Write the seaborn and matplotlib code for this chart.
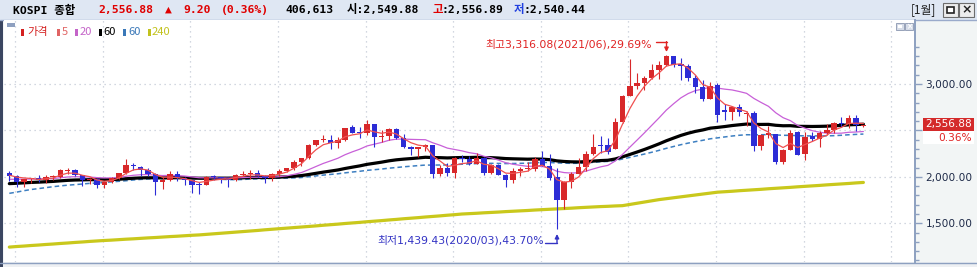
import numpy as np
import pandas as pd
import matplotlib
matplotlib.use("Agg")
import matplotlib.pyplot as plt
import seaborn as sns
from matplotlib.patches import Rectangle

sns.set_style("white")
plt.rcParams['font.family'] = ['DejaVu Sans', 'Noto Sans CJK KR']

# ---------------- data (KOSPI monthly, 2013-12 .. 2023-09) ----------------
months = list(pd.period_range('2013-12', '2023-09', freq='M').astype(str))

open_ = [2044, 2013, 1941, 1980, 1991, 1961, 1998, 2003, 2066, 2070, 2019, 1966, 1980,
         1915, 1949, 1985, 2042, 2130, 2111, 2077, 2030, 1941, 1964, 2030, 1989,
         1961, 1918, 1917, 1996, 1994, 1983, 1970, 2017, 2030, 2044, 2010, 1983,
         2027, 2067, 2091, 2160, 2206, 2347, 2394, 2402, 2363, 2394, 2536, 2476,
         2474, 2566, 2427, 2445, 2515, 2423, 2326, 2295, 2322, 2338, 2029, 2096,
         2041, 2204, 2195, 2140, 2203, 2041, 2130, 2024, 1967, 2063, 2083, 2087,
         2197, 2119, 1997, 1754, 1947, 2030, 2108, 2249, 2330, 2345, 2301, 2591,
         2874, 2976, 3013, 3062, 3148, 3204, 3297, 3202, 3199, 3069, 2971, 2839,
         2989, 2716, 2699, 2757, 2680, 2686, 2333, 2452, 2460, 2155, 2293, 2480,
         2249, 2438, 2413, 2477, 2501, 2577, 2564, 2633, 2549.88]
high = [2059, 2015, 1980, 1987, 2017, 2018, 2017, 2082, 2093, 2082, 2024, 1986, 1993,
        1960, 1996, 2046, 2189, 2145, 2118, 2096, 2046, 1995, 2064, 2060, 2000,
        1967, 1945, 2005, 2022, 2001, 2001, 2027, 2068, 2074, 2069, 2017, 2046,
        2088, 2099, 2180, 2208, 2355, 2402, 2453, 2451, 2429, 2527, 2561, 2532,
        2607, 2573, 2500, 2528, 2529, 2462, 2327, 2326, 2354, 2347, 2124, 2148,
        2218, 2232, 2228, 2252, 2213, 2140, 2135, 2036, 2097, 2103, 2162, 2211,
        2277, 2250, 2100, 1955, 2055, 2202, 2276, 2458, 2443, 2419, 2636, 2882,
        3266, 3121, 3091, 3220, 3249, 3316.08, 3305, 3279, 3214, 3093, 3048, 3025,
        3012, 2780, 2767, 2787, 2709, 2714, 2465, 2546, 2460, 2300, 2504, 2490,
        2485, 2484, 2494, 2571, 2589, 2644, 2668, 2668, 2556.89]
low = [1960, 1886, 1891, 1932, 1950, 1937, 1970, 1988, 2031, 2010, 1900, 1925, 1880,
       1876, 1932, 1974, 2032, 2076, 2013, 2012, 1800, 1870, 1960, 1956, 1914,
       1829, 1817, 1912, 1961, 1930, 1892, 1953, 2009, 1975, 1998, 1931, 1960,
       2009, 2053, 2071, 2121, 2192, 2334, 2373, 2300, 2311, 2391, 2475, 2420,
       2452, 2325, 2373, 2397, 2404, 2309, 2235, 2219, 2281, 1985, 2010, 2004,
       1993, 2161, 2124, 2140, 2016, 2030, 2019, 1891, 1938, 2013, 2060, 2064,
       2118, 1968, 1439.43, 1654, 1875, 2030, 2067, 2237, 2260, 2245, 2299, 2584,
       2869, 2944, 2930, 3051, 3054, 3197, 3183, 3044, 3029, 2902, 2819, 2837,
       2591, 2614, 2608, 2653, 2546, 2276, 2292, 2415, 2134, 2134, 2291, 2231,
       2180, 2391, 2323, 2449, 2470, 2540, 2522, 2492, 2540.44]
close = [2011, 1941, 1980, 1986, 1962, 1995, 2002, 2076, 2068, 2020, 1964, 1981, 1916,
         1949, 1986, 2041, 2127, 2115, 2074, 2030, 1941, 1963, 2029, 1991, 1961,
         1912, 1912, 1995, 1994, 1983, 1970, 2016, 2034, 2043, 2008, 1983, 2026,
         2067, 2091, 2160, 2205, 2347, 2392, 2402, 2363, 2394, 2523, 2476, 2467,
         2566, 2427, 2445, 2515, 2423, 2326, 2295, 2322, 2343, 2029, 2096, 2041,
         2204, 2195, 2140, 2203, 2041, 2130, 2024, 1967, 2063, 2083, 2087, 2197,
         2119, 1987, 1754, 1947, 2029, 2108, 2249, 2326, 2327, 2267, 2591, 2873,
         2976, 3013, 3061, 3148, 3204, 3297, 3202, 3199, 3069, 2971, 2839, 2978,
         2663, 2699, 2757, 2695, 2686, 2333, 2452, 2473, 2155, 2293, 2473, 2236,
         2425, 2413, 2477, 2501, 2577, 2564, 2633, 2557, 2556.88]

# closes before the visible window (2009-01 .. 2013-11), used for the averages
history_close = [1162, 1063, 1206, 1369, 1395, 1390, 1557, 1591, 1673, 1580, 1555, 1682,
                 1602, 1594, 1692, 1741, 1641, 1698, 1759, 1742, 1873, 1882, 1904, 2051,
                 2069, 1939, 2107, 2192, 2142, 2100, 2133, 1880, 1769, 1909, 1847, 1826,
                 1955, 2030, 2014, 1981, 1843, 1854, 1881, 1905, 1996, 1912, 1932, 1997,
                 1961, 2026, 2005, 1963, 2001, 1863, 1914, 1926, 1997, 2039, 2045]

# long (240) average line
ma240 = [1244, 1250, 1255, 1261, 1266, 1272, 1277, 1283, 1288, 1294, 1299, 1305, 1310,
         1315, 1319, 1324, 1329, 1333, 1338, 1343, 1347, 1352, 1357, 1361, 1366, 1371, 1375,
         1381, 1387, 1393, 1399, 1405, 1411, 1417, 1423, 1430, 1436, 1442, 1448, 1454, 1460,
         1466, 1472, 1479, 1485,
         1491, 1498, 1504, 1510, 1517, 1523, 1529, 1536, 1542, 1549, 1555, 1561, 1568, 1574,
         1580, 1587, 1593, 1600,
         1604, 1608, 1613, 1617, 1621, 1626, 1630, 1634, 1638, 1643, 1647, 1651,
         1655, 1659, 1663, 1668, 1672, 1676, 1680,
         1683, 1687, 1690,
         1703, 1716, 1729, 1742, 1755,
         1765, 1775, 1785, 1795, 1805, 1815, 1825, 1835,
         1840, 1845, 1851, 1856, 1861, 1866, 1872, 1877, 1882, 1887, 1893, 1898, 1903, 1908,
         1914, 1919, 1924, 1929, 1935, 1940]

# weighted (w_) and simple (s_) moving-average periods
ma_periods = {'w5': 5, 'w20': 20, 'w60': 60, 's60': 60}

# ---------------- derived frame ----------------
n = len(close)
df = pd.DataFrame({'month': months, 'open': open_, 'high': high, 'low': low, 'close': close})
df['i'] = np.arange(n)
full = pd.Series(history_close + close, dtype=float)
off = len(history_close)

def wma(s, w):
    wt = np.arange(1, w + 1, dtype=float)
    return s.rolling(w).apply(lambda a: np.dot(a, wt) / wt.sum(), raw=True)

for k, w in ma_periods.items():
    if k.startswith('w'):
        df[k] = wma(full, w).iloc[off:].to_numpy()
    else:
        df[k] = full.rolling(w).mean().iloc[off:].to_numpy()
df['ma240'] = ma240

UP, DN = '#d8282a', '#2c2cd6'

# ---------------- figure ----------------
W, H = 978, 267
fig = plt.figure(figsize=(W / 100, H / 100), dpi=100)
fig.patch.set_facecolor('#f3f5f7')

ul = fig.add_axes([0, 0, 1, 1])
ul.set_xlim(0, W); ul.set_ylim(H, 0); ul.axis('off'); ul.set_zorder(0)
ul.add_patch(Rectangle((0, 0), W, 20, fc='#dfe7f3', ec='none'))
ul.plot([0, W], [19.5, 19.5], color='#9aaacb', lw=1)
ul.add_patch(Rectangle((915, 20), 63, 242, fc='#f2f5f5', ec='none'))
ul.add_patch(Rectangle((0, 262), W, 5, fc='#eef0f3', ec='none'))
ul.plot([0, W], [262.5, 262.5], color='#8da0c0', lw=1)
ul.add_patch(Rectangle((0, 20), 3, 247, fc='#3b4661', ec='none'))

ax = fig.add_axes([4 / W, 5 / H, 911 / W, 242 / H])
ax.set_zorder(1)
ax.set_facecolor('white')

y_lo, y_hi = 1083.4, 3688.9
ax.set_ylim(y_lo, y_hi)
ax.set_xlim(-0.73, 124.07)

# grid
for v in [1500, 2000, 2500, 3000]:
    ax.axhline(v, color='#c4cbd6', lw=0.9, ls=(0, (1, 3)), zorder=0.5)
for i in range(1, 122, 12):
    ax.axvline(i - 0.2, color='#c4cbd6', lw=0.9, ls=(0, (1, 3)), zorder=0.5)

# moving averages
sns.lineplot(data=df, x='i', y='ma240', ax=ax, color='#c9c81c', lw=2.3, zorder=2)
sns.lineplot(data=df, x='i', y='s60', ax=ax, color='#3d7fc1', lw=1.1, ls=(0, (3, 2)), zorder=2)
sns.lineplot(data=df, x='i', y='w60', ax=ax, color='#000000', lw=2.3, zorder=2)
sns.lineplot(data=df, x='i', y='w20', ax=ax, color='#c860d8', lw=0.9, zorder=2)

# candles
min_h = (y_hi - y_lo) / 242 * 1.2
for r in df.itertuples():
    c = UP if r.close >= r.open else DN
    ax.vlines(r.i, r.low, r.high, color=c, lw=0.8, zorder=3)
    b0 = min(r.open, r.close)
    bh = max(abs(r.close - r.open), min_h)
    ax.bar(r.i, bh, bottom=b0, width=0.74, color=c, lw=0, zorder=3)

sns.lineplot(data=df, x='i', y='w5', ax=ax, color='#f05050', lw=0.9, zorder=4)

ax.set_xlabel(''); ax.set_ylabel('')
ax.set_xticks([])
for s in ['top', 'left', 'bottom']:
    ax.spines[s].set_visible(False)
ax.spines['right'].set_color('#8da0c0')
ax.spines['right'].set_linewidth(1.4)
ax.yaxis.tick_right()
ax.set_yticks([1500, 2000, 2500, 3000])
ax.set_yticklabels(['1,500.00', '2,000.00', '', '3,000.00'])
ax.set_yticks(np.arange(1100, 3401, 100), minor=True)
ax.tick_params(axis='y', which='major', length=5, width=1, color='#8da0c0',
               labelsize=7.6, labelcolor='#1e2a48', pad=2.5)
ax.tick_params(axis='y', which='minor', length=3, width=1, color='#8da0c0')
if ax.get_legend():
    ax.get_legend().remove()

# ---------------- overlay texts ----------------
ov = fig.add_axes([0, 0, 1, 1])
ov.set_xlim(0, W); ov.set_ylim(H, 0); ov.axis('off'); ov.set_zorder(5)

HF = ['DejaVu Sans Mono', 'Noto Sans CJK KR']
def T(x, y, s, c='black', size=8.2, weight='bold', fam=HF, ha='left'):
    ov.text(x, y, s, color=c, fontsize=size, fontweight=weight, family=fam,
            ha=ha, va='center')

T(13, 10, 'KOSPI 종합')
T(98, 10, '2,556.88', '#e00000')
T(165, 10, '▲', '#e00000')
T(183, 10, '9.20', '#e00000')
T(221, 10, '(0.36%)', '#e00000')
T(285, 10, '406,613')
T(347, 10, '시:2,549.88')
T(433, 10, '고', '#e00000')
T(442, 10, ':2,556.89')
T(514, 10, '저', '#2040e0')
T(523, 10, ':2,540.44')
T(911, 10, '[1월]', '#202020', size=8.5, weight='normal', fam=['Noto Sans CJK KR'])
for bx, sym in [(943, 'box'), (959, 'x')]:
    ov.add_patch(Rectangle((bx, 3), 15, 14, fc='#ececec', ec='#6d6d6d', lw=0.8))
    if sym == 'box':
        ov.add_patch(Rectangle((bx + 4, 7), 7, 6, fc='white', ec='#222222', lw=1.2))
    else:
        ov.text(bx + 7.5, 10, '×', fontsize=9, fontweight='bold', ha='center', va='center',
                color='#222222')

# legend row
ov.add_patch(Rectangle((7, 23), 8, 4, fc='#8ea0c0', ec='none'))
LF = ['Noto Sans CJK KR', 'DejaVu Sans']
leg = [(21, 27, '가격', '#d42020'), (57, 62, '5', '#e06464'), (75, 80, '20', '#c464c8'),
       (99, 103, '60', '#000000'), (123, 128, '60', '#3a78b8'), (148, 152, '240', '#c2c21e')]
for rx, tx, s, c in leg:
    ov.add_patch(Rectangle((rx, 28.5), 2.5, 7, fc=c, ec='none'))
    ov.text(tx, 32, s, color=c, fontsize=8, family=LF, ha='left', va='center')

# small chart icons at top-right of plot
for bx in (896, 905):
    ov.add_patch(Rectangle((bx, 23), 7.5, 7, fc='#d6dce8', ec='#8a96b0', lw=0.6))
ov.add_patch(Rectangle((898, 25), 3.5, 3, fc='white', ec='none'))
ov.text(908.8, 26.5, '×', fontsize=5.5, ha='center', va='center', color='white',
        fontweight='bold')

# high / low annotations
AF = ['DejaVu Sans', 'Noto Sans CJK KR']
ov.text(485, 44.5, '최고3,316.08(2021/06),29.69%', color='#e02424', fontsize=7.8,
        family=AF, ha='left', va='center')
ov.plot([656, 666.5], [42, 42], color='#e02424', lw=1)
ov.annotate('', xy=(666.5, 52), xytext=(666.5, 41.6),
            arrowprops=dict(arrowstyle='-|>', color='#e02424', lw=1, mutation_scale=6,
                            shrinkA=0, shrinkB=0))
ov.text(377, 240.5, '최저1,439.43(2020/03),43.70%', color='#3434c4', fontsize=7.8,
        family=AF, ha='left', va='center')
ov.plot([545, 557], [243, 243], color='#3434c4', lw=1)
ov.annotate('', xy=(557, 234), xytext=(557, 243.4),
            arrowprops=dict(arrowstyle='-|>', color='#3434c4', lw=1, mutation_scale=6,
                            shrinkA=0, shrinkB=0))

# current price tag
ov.add_patch(Rectangle((922.5, 117.5), 51, 13.5, fc='#d42a2a', ec='none'))
ov.text(972, 124.5, '2,556.88', color='white', fontsize=7.6, ha='right', va='center')
ov.add_patch(Rectangle((922.5, 131), 51, 13, fc='white', ec='none'))
ov.text(972, 137.8, '0.36%', color='#e02424', fontsize=7.6, ha='right', va='center')

fig.savefig('out.png', dpi=100, facecolor=fig.get_facecolor())
